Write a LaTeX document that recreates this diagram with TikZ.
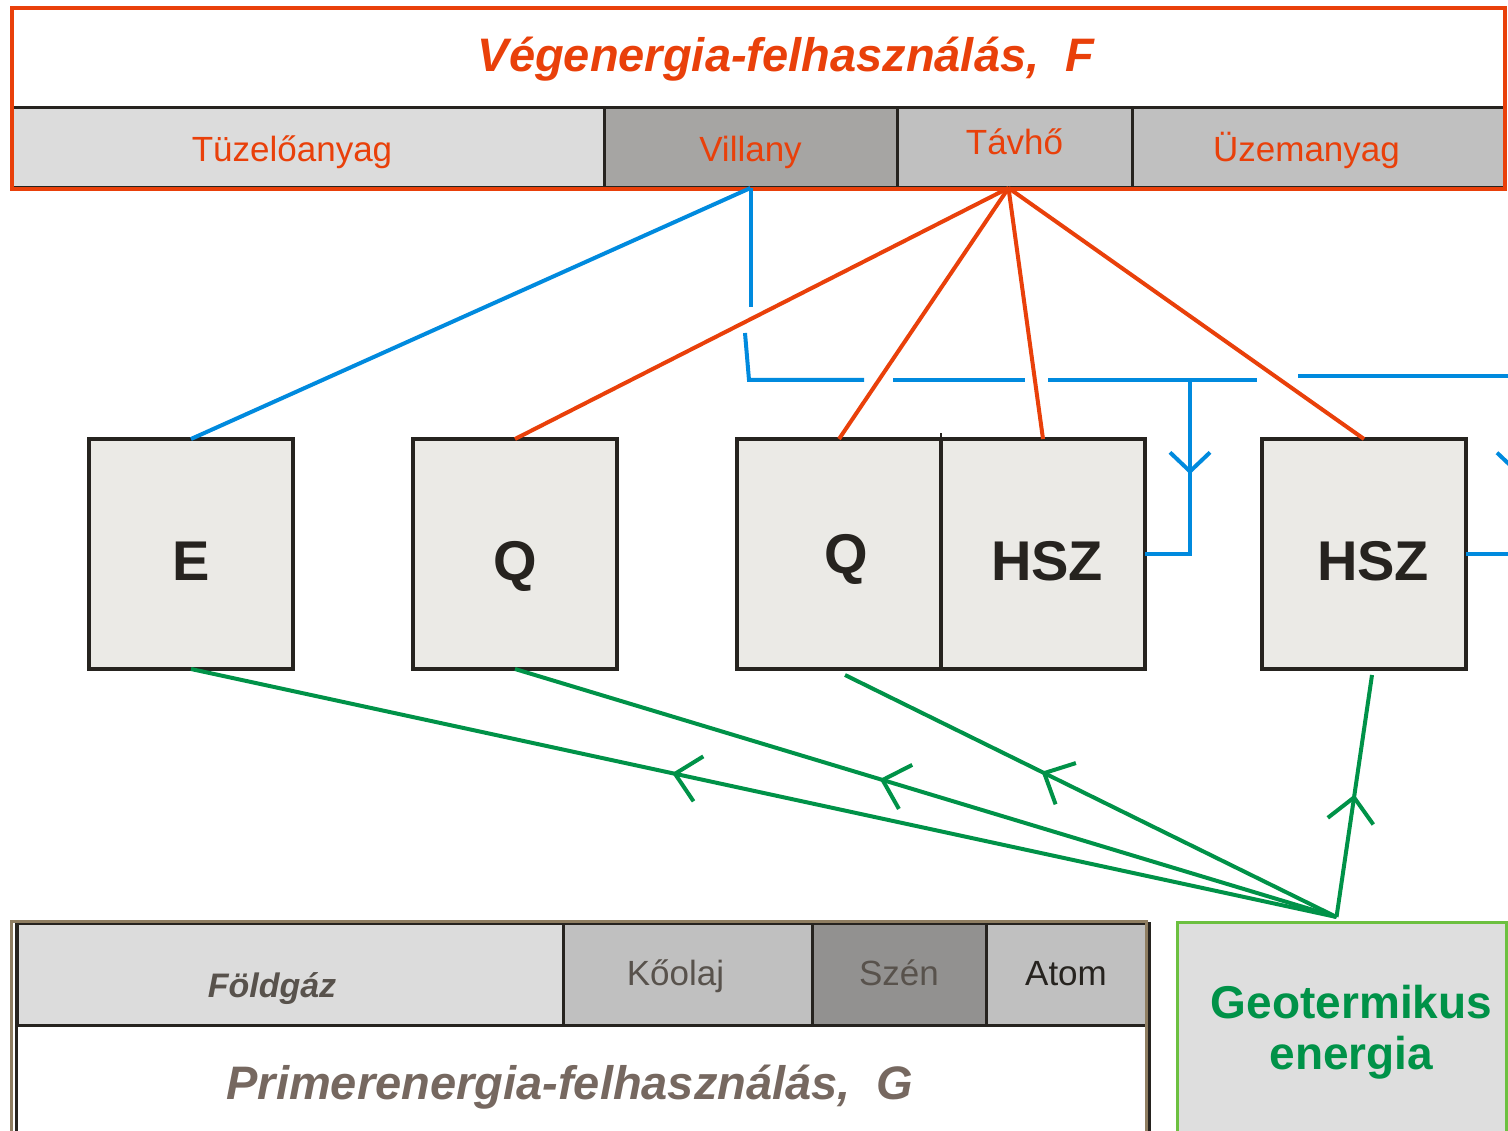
\documentclass[tikz,border=0pt]{standalone}
\usepackage{fontspec}
\setmainfont{Liberation Sans}
\usetikzlibrary{chains,positioning,arrows.meta,decorations.markings}

\definecolor{vorange}{RGB}{233,64,10}
\definecolor{eblue}{RGB}{0,138,222}
\definecolor{ggreen}{RGB}{0,146,72}
\definecolor{lgreen}{RGB}{108,192,64}
\definecolor{darkline}{RGB}{38,35,31}
\definecolor{unitfill}{RGB}{235,234,230}
\definecolor{cellA}{RGB}{220,220,220}
\definecolor{cellB}{RGB}{166,165,163}
\definecolor{cellC}{RGB}{192,192,192}
\definecolor{cellD}{RGB}{146,145,144}
\definecolor{framebrown}{RGB}{143,126,98}
\definecolor{primtext}{RGB}{118,104,96}
\definecolor{graytext}{RGB}{88,82,76}
\definecolor{geofill}{RGB}{222,222,222}

\begin{document}
\begin{tikzpicture}[x=1pt,y=-1pt]
\path[use as bounding box,fill=white] (0,0) rectangle (1508,1131);

\tikzstyle{topcell}=[draw=darkline,line width=3pt,minimum height=80pt,inner sep=0pt,outer sep=0pt,
  text=vorange,font=\fontsize{35pt}{40pt}\selectfont,text height=28pt,text depth=0pt]
\tikzstyle{botcell}=[draw=darkline,line width=3pt,minimum height=102pt,inner sep=0pt,outer sep=0pt,
  text=graytext,font=\fontsize{35pt}{40pt}\selectfont,text height=23pt,text depth=0pt]
\tikzstyle{unit}=[draw=darkline,line width=4pt,fill=unitfill,minimum width=204pt,minimum height=230pt,
  inner sep=0pt,outer sep=0pt,text=darkline,font=\bfseries\fontsize{56pt}{60pt}\selectfont,
  text height=52pt,text depth=0pt]
\tikzstyle{bigtitle}=[font=\bfseries\itshape\fontsize{47pt}{50pt}\selectfont,anchor=base]
\tikzstyle{elec}=[color=eblue,line width=4pt]
\tikzstyle{heat}=[color=vorange,line width=4pt]
\tikzset{busflow/.style={elec,postaction={decorate},decoration={markings,
  mark=at position #1 with {\arrow{Straight Barb[length=19pt,width=40pt]}}}}}
\tikzset{geoflow/.style={color=ggreen,line width=4pt,postaction={decorate},decoration={markings,
  mark=at position #1 with {\arrow{Straight Barb[length=24pt,width=46pt]}}}}}

%% Final energy bar
\begin{scope}[start chain=1 going right,node distance=0pt]
    \node [on chain=1,topcell,fill=cellA,minimum width=592pt,anchor=north west] (tuzelo) at (12,108) {\hspace*{-32pt}Tüzelőanyag};
    \node [on chain=1,topcell,fill=cellB,minimum width=293pt] (villany) {Villany};
    \node [on chain=1,topcell,fill=cellC,minimum width=235pt] (tavho) {\raisebox{7pt}{Távhő}};
    \node [on chain=1,topcell,fill=cellC,minimum width=373pt] (uzem) {\hspace*{-24pt}Üzemanyag};
\end{scope}
\draw[vorange,line width=4pt] (12,8) rectangle (1505,189);
\node [bigtitle,text=vorange] (ftitle) at (786,72) {Végenergia-felhasználás,\ \ F};

%% Conversion units
\node [unit,anchor=north west] (e) at (89,439) {E};
\node [unit,anchor=north west] (q) at (413,439) {Q};
\node [unit,anchor=north west] (chpq) at (737,439) {\hspace*{14pt}\raisebox{7pt}{Q}};
\node [unit,right=0pt of chpq] (chph) {\hspace*{8pt}HSZ};
\node [unit,anchor=north west] (hsz) at (1262,439) {\hspace*{18pt}HSZ};
\draw[darkline,line width=2pt] (chpq.north east) -- ++(0,-6);

%% Primary energy bar
\draw[darkline,line width=3pt] (16,922) -- (16,1140);
\draw[darkline,line width=3pt] (1149,922) -- (1149,1140);
\begin{scope}[start chain=2 going right,node distance=0pt]
    \node [on chain=2,botcell,fill=cellA,minimum width=546pt,anchor=north west,
      font=\bfseries\itshape\fontsize{34pt}{40pt}\selectfont] (foldgaz) at (17,923) {\hspace*{-36pt}\raisebox{-12pt}{Földgáz}};
    \node [on chain=2,botcell,fill=cellC,minimum width=249pt] (koolaj) {\hspace*{-24pt}Kőolaj};
    \node [on chain=2,botcell,fill=cellD,minimum width=174pt] (szen) {Szén};
    \node [on chain=2,botcell,fill=cellC,minimum width=160pt,text=darkline] (atom) {Atom};
\end{scope}
\draw[framebrown,line width=3pt] (11,1140) -- (11,921) -- (1146,921) -- (1146,1140);
\node [bigtitle,text=primtext] (gtitle) at (570,1099) {Primerenergia-felhasználás,\ \ G};

%% Geothermal source
\node [draw=lgreen,line width=3pt,fill=geofill,minimum width=329pt,minimum height=220pt,
  anchor=north west,inner sep=0pt,outer sep=0pt,align=center,text=ggreen,
  font=\bfseries\fontsize{46pt}{51pt}\selectfont] (geo) at (1177,922) {\hspace*{20pt}Geotermikus\\\hspace*{20pt}energia};

%% Electricity lines
\coordinate (busw) at (749,380);
\coordinate (busj) at (1190,380);
\coordinate (buse) at (1517,376);
\draw[elec] (villany.south) -- (e.north);
\draw[elec] (villany.south) -- ++(0,119);
\draw[elec] ([shift={(-4,-47)}]busw) -- (busw) -- ++(115,0);
\draw[elec] ([xshift=144pt]busw) -- ++(132,0);
\draw[elec] ([xshift=299pt]busw) -- ++(209,0);
\draw[elec] ([shift={(549,-4)}]busw) -- (buse);
\draw[busflow=0.43] (busj) -- (busj |- chph.east) -- (chph.east);
\draw[busflow=0.43] (buse) -- (buse |- hsz.east) -- (hsz.east);

%% Heat lines
\coordinate (hub) at ([xshift=-6pt]tavho.south);
\draw[heat] (hub) -- (q.north);
\draw[heat] (hub) -- (chpq.north);
\draw[heat] (hub) -- (chph.north);
\draw[heat] (hub) -- (hsz.north);

%% Geothermal lines
\coordinate (geotop) at ([shift={(-5,-5)}]geo.north);
\draw[geoflow=0.58] (geotop) -- (e.south);
\draw[geoflow=0.556] (geotop) -- (q.south);
\draw[geoflow=0.6] (geotop) -- ([shift={(6,6)}]chpq.south);
\draw[geoflow=0.506] (geotop) -- ([shift={(8,6)}]hsz.south);
\end{tikzpicture}
\end{document}
